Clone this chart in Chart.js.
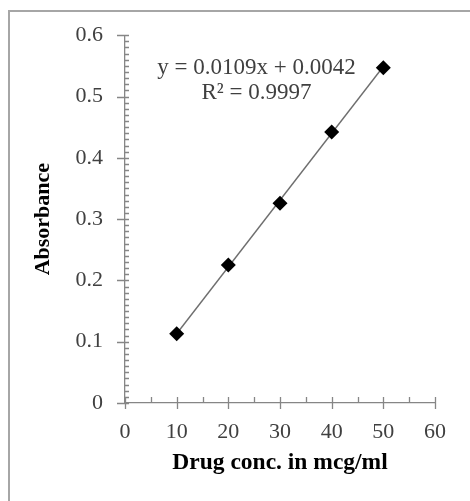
<!DOCTYPE html>
<html>
<head>
<meta charset="utf-8">
<script src="https://cdn.jsdelivr.net/npm/chart.js@4/dist/chart.umd.min.js"></script>
<style>
  html, body { margin: 0; padding: 0; background: #fff; overflow: hidden; }
  canvas { display: block; }
</style>
</head>
<body>
<canvas id="c" width="470" height="501"></canvas>
<script>
const concentrations = [10, 20, 30, 40, 50];
const absorbances = [0.113, 0.225, 0.326, 0.442, 0.547];
const trendX = [10, 50];
const trendY = [0.113, 0.549];
const xTickValues = [0, 10, 20, 30, 40, 50, 60];
const yTickValues = [0, 0.1, 0.2, 0.3, 0.4, 0.5, 0.6];
const yTickLabels = ['0', '0.1', '0.2', '0.3', '0.4', '0.5', '0.6'];
const equationLines = ['y = 0.0109x + 0.0042', 'R\u00B2 = 0.9997'];
const equationAnchor = { x: 25.45, y: [0.547, 0.505] };
const xTitle = 'Drug conc. in mcg/ml';
const yTitle = 'Absorbance';

const serif = '"Liberation Serif", "Times New Roman", serif';

const framePlugin = {
  id: 'frame',
  beforeDraw(chart) {
    const ctx = chart.ctx;
    ctx.save();
    ctx.strokeStyle = '#a6a6a6';
    ctx.lineWidth = 2;
    ctx.beginPath();
    ctx.moveTo(9, chart.height + 5);
    ctx.lineTo(9, 11);
    ctx.lineTo(chart.width + 5, 11);
    ctx.stroke();
    ctx.restore();
  }
};

const tickPlugin = {
  id: 'ticksAndText',
  afterDraw(chart) {
    const ctx = chart.ctx;
    const xs = chart.scales.x, ys = chart.scales.y;
    const x0 = xs.getPixelForValue(0), y0 = ys.getPixelForValue(0);
    ctx.save();
    ctx.strokeStyle = '#868686';
    ctx.lineWidth = 1.3;
    ctx.beginPath();
    for (let i = 0; i <= 60; i++) {
      const py = Math.round(ys.getPixelForValue(i / 100)) + 0.5;
      if (i % 10 === 0) { ctx.moveTo(x0 - 8, py); ctx.lineTo(x0 + 4, py); }
      else { ctx.moveTo(x0, py); ctx.lineTo(x0 + 4, py); }
    }
    for (let i = 0; i <= 12; i++) {
      const px = Math.round(xs.getPixelForValue(i * 5)) + 0.5;
      if (i % 2 === 0) { ctx.moveTo(px, y0 - 6); ctx.lineTo(px, y0 + 6); }
      else { ctx.moveTo(px, y0 - 6); ctx.lineTo(px, y0); }
    }
    ctx.stroke();
    ctx.fillStyle = '#404040';
    ctx.font = '23px ' + serif;
    ctx.textAlign = 'center';
    ctx.textBaseline = 'middle';
    const ex = xs.getPixelForValue(equationAnchor.x);
    equationLines.forEach((t, k) => ctx.fillText(t, ex, ys.getPixelForValue(equationAnchor.y[k])));
    ctx.restore();
  }
};

new Chart(document.getElementById('c'), {
  type: 'scatter',
  data: {
    datasets: [
      {
        label: 'Absorbance',
        data: concentrations.map((c, i) => ({ x: c, y: absorbances[i] })),
        pointStyle: 'rectRot',
        pointRadius: 7.5,
        backgroundColor: '#000',
        borderColor: '#000',
        borderWidth: 0,
        order: 0
      },
      {
        label: 'Linear',
        type: 'line',
        data: trendX.map((c, i) => ({ x: c, y: trendY[i] })),
        borderColor: '#6e6e6e',
        borderWidth: 1.4,
        pointRadius: 0,
        fill: false,
        order: 1
      }
    ]
  },
  options: {
    responsive: false,
    animation: false,
    devicePixelRatio: 1,
    layout: { padding: { left: 0, top: 35, right: 35, bottom: 0 } },
    plugins: { legend: { display: false }, tooltip: { enabled: false } },
    scales: {
      x: {
        type: 'linear', min: 0, max: 60,
        afterBuildTicks: s => { s.ticks = xTickValues.map(v => ({ value: v })); },
        afterFit: s => { s.height = 98; },
        grid: { display: false, drawTicks: false },
        border: { display: true, color: '#868686', width: 1.3 },
        ticks: { color: '#404040', font: { family: serif, size: 22 }, padding: 16, maxRotation: 0, autoSkip: false,
                 callback: v => String(v) },
        title: { display: true, text: xTitle, color: '#000', font: { family: serif, size: 23.5, weight: 'bold' },
                 padding: { top: 0, bottom: 24 } }
      },
      y: {
        type: 'linear', min: 0, max: 0.6,
        afterBuildTicks: s => { s.ticks = yTickValues.map(v => ({ value: v })); },
        afterFit: s => { s.width = 125; },
        grid: { display: false, drawTicks: false },
        border: { display: true, color: '#868686', width: 1.3 },
        ticks: { color: '#404040', font: { family: serif, size: 22 }, padding: 22, autoSkip: false,
                 callback: (v, i) => yTickLabels[i] },
        title: { display: true, text: yTitle, color: '#000', font: { family: serif, size: 22, weight: 'bold' },
                 padding: { top: 30, bottom: 0 } }
      }
    }
  },
  plugins: [framePlugin, tickPlugin]
});
</script>
</body>
</html>
